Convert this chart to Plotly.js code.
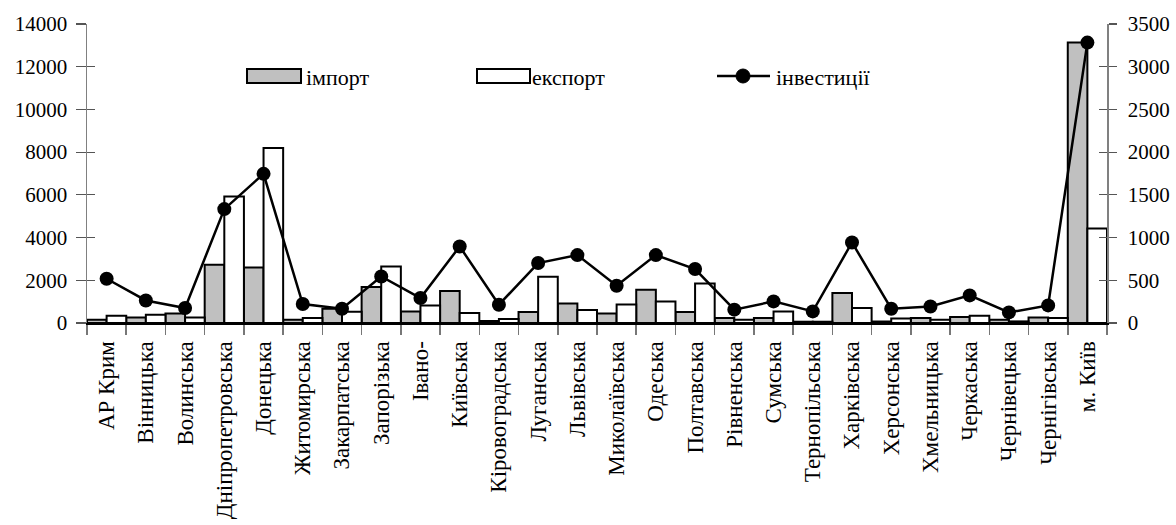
<!DOCTYPE html>
<html>
<head>
<meta charset="utf-8">
<script src="https://cdn.plot.ly/plotly-3.0.1.min.js"></script>
<style>html,body{margin:0;padding:0;background:#fff;}#chart{width:1176px;height:525px;}</style>
</head>
<body>
<div id="chart"></div>
<script>
const regions = ["АР Крим","Вінницька","Волинська","Дніпропетровська","Донецька","Житомирська","Закарпатська","Запорізька","Івано-","Київська","Кіровоградська","Луганська","Львівська","Миколаївська","Одеська","Полтавська","Рівненська","Сумська","Тернопільська","Харківська","Херсонська","Хмельницька","Черкаська","Чернівецька","Чернігівська","м. Київ"];
const importVals = [150, 260, 450, 2730, 2600, 150, 670, 1690, 543, 1496, 94, 512, 917, 450, 1558, 512, 234, 234, 60, 1403, 70, 234, 280, 154, 262, 13130];
const exportVals = [340, 390, 262, 5925, 8190, 234, 530, 2650, 823, 468, 187, 2165, 605, 870, 1012, 1855, 154, 543, 60, 700, 215, 154, 343, 75, 234, 4430];
const investVals = [518, 264, 175, 1333, 1746, 222, 167, 545, 292, 896, 214, 702, 795, 436, 795, 632, 156, 253, 136, 943, 167, 194, 323, 124, 206, 3282];
const leftTicks = [0, 2000, 4000, 6000, 8000, 10000, 12000, 14000];
const rightTicks = [0, 500, 1000, 1500, 2000, 2500, 3000, 3500];
const legendNames = ["імпорт", "експорт", "інвестиції"];

const FONT = "'Liberation Serif', 'Times New Roman', serif";
const fs = 21;

const traces = [
  {type:'bar', x: regions, y: importVals, name: legendNames[0], yaxis:'y',
   marker:{color:'#c0c0c0', line:{color:'#000', width:2}}},
  {type:'bar', x: regions, y: exportVals, name: legendNames[1], yaxis:'y',
   marker:{color:'#ffffff', line:{color:'#000', width:2}}},
  {type:'scatter', mode:'lines+markers', x: regions, y: investVals, name: legendNames[2], yaxis:'y2',
   line:{color:'#000', width:2.5}, marker:{color:'#000', size:14}}
];

// legend placement helpers (paper coordinates)
const L = 87, W = 1020, B = 323, H = 299;
const px = v => (v - L) / W;
const py = v => (B - v) / H;

const layout = {
  width: 1176, height: 525,
  margin: {l: L, r: 1176 - L - W, t: B - H, b: 525 - B, pad: 0},
  paper_bgcolor: '#fff', plot_bgcolor: '#fff',
  font: {family: FONT, size: fs, color: '#000'},
  showlegend: false,
  barmode: 'group', bargap: 0, bargroupgap: 0,
  xaxis: {type:'category', range:[-0.5, regions.length - 0.5], showline:true, linecolor:'#000', linewidth:2,
          ticks:'outside', tickson:'boundaries', ticklen:10, tickcolor:'#777', tickwidth:1.5,
          ticklabelstandoff: 7,
          tickangle:-90, tickfont:{family:FONT, size:23}, showgrid:false, zeroline:false, fixedrange:true},
  yaxis: {range:[0, 14000], tickvals: leftTicks, tickformat:'d', showline:true, linecolor:'#808080', linewidth:1.5,
          ticks:'outside', ticklen:10, tickcolor:'#555', tickwidth:1.2, showgrid:false, zeroline:false,
          ticklabelstandoff: 4, tickfont:{family:FONT, size:fs}},
  yaxis3: {range:[0, 14000], tickvals: leftTicks, overlaying:'y', side:'left', ticks:'inside', ticklen:8,
           tickcolor:'#555', tickwidth:1.2, showticklabels:false, showline:false, showgrid:false, zeroline:false},
  yaxis2: {range:[0, 3500], tickvals: rightTicks, tickformat:'d', overlaying:'y', side:'right', showline:true, linecolor:'#808080', linewidth:1.5,
           ticks:'outside', ticklen:8, tickcolor:'#555', tickwidth:1.2, showgrid:false, zeroline:false,
           ticklabelstandoff: 7, tickfont:{family:FONT, size:fs}},
  yaxis4: {range:[0, 3500], tickvals: rightTicks, overlaying:'y', side:'right', ticks:'inside', ticklen:8,
           tickcolor:'#555', tickwidth:1.2, showticklabels:false, showline:false, showgrid:false, zeroline:false},
  shapes: [
    {type:'rect', xref:'paper', yref:'paper', x0:px(247), x1:px(301), y0:py(83), y1:py(69),
     fillcolor:'#c0c0c0', line:{color:'#000', width:2}},
    {type:'rect', xref:'paper', yref:'paper', x0:px(477), x1:px(530), y0:py(83), y1:py(69),
     fillcolor:'#fff', line:{color:'#000', width:2}},
    {type:'line', xref:'paper', yref:'paper', x0:px(717), x1:px(770), y0:py(76), y1:py(76),
     line:{color:'#000', width:2.5}},
    {type:'circle', xref:'paper', yref:'paper', x0:px(736), x1:px(750), y0:py(83), y1:py(69),
     fillcolor:'#000', line:{color:'#000', width:1}}
  ],
  annotations: [
    {xref:'paper', yref:'paper', x:px(304), y:py(77), xanchor:'left', yanchor:'middle', showarrow:false,
     text: legendNames[0], font:{family:FONT, size:22}},
    {xref:'paper', yref:'paper', x:px(530), y:py(77), xanchor:'left', yanchor:'middle', showarrow:false,
     text: legendNames[1], font:{family:FONT, size:22}},
    {xref:'paper', yref:'paper', x:px(774), y:py(77), xanchor:'left', yanchor:'middle', showarrow:false,
     text: legendNames[2], font:{family:FONT, size:22}}
  ]
};

// invisible points registering the overlay axes that draw the inner halves of the crossing ticks
traces.push({type:'scatter', x:[regions[0]], y:[0], yaxis:'y3', mode:'markers', marker:{opacity:0}, hoverinfo:'skip', showlegend:false});
traces.push({type:'scatter', x:[regions[0]], y:[0], yaxis:'y4', mode:'markers', marker:{opacity:0}, hoverinfo:'skip', showlegend:false});

Plotly.newPlot('chart', traces, layout, {staticPlot:true, displayModeBar:false});
</script>
</body>
</html>
